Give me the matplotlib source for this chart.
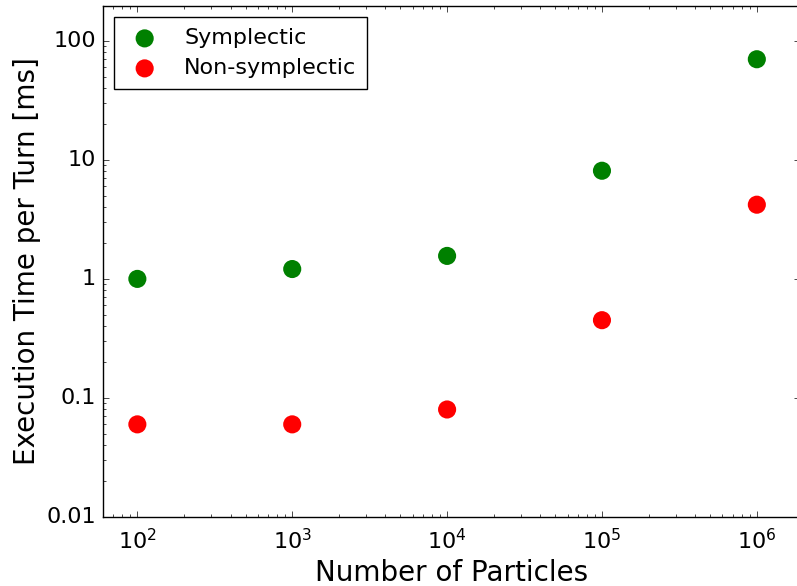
import matplotlib
matplotlib.use('Agg')
import matplotlib.pyplot as plt

particles = [1e2, 1e3, 1e4, 1e5, 1e6]
symplectic = [1.0, 1.21, 1.56, 8.1, 70]
non_symplectic = [0.06, 0.06, 0.08, 0.45, 4.2]

plt.style.use('classic')
plt.rcParams['font.family'] = ['DejaVu Sans']

fig = plt.figure(figsize=(7.97, 5.86), dpi=100, facecolor='white')
ax = fig.add_axes([103 / 797, 1 - 517 / 586, 697 / 797, 511 / 586])

ax.scatter(particles, symplectic, s=170, color='green', edgecolors='none',
           label='Symplectic')
ax.scatter(particles, non_symplectic, s=170, color='red', edgecolors='none',
           label='Non-symplectic')

ax.set_xscale('log')
ax.set_yscale('log')
ax.set_xlim(60, 1.9e6)
ax.set_ylim(0.01, 196)
ax.set_yticks([0.01, 0.1, 1, 10, 100])
ax.set_yticklabels(['0.01', '0.1', '1', '10', '100'])
ax.tick_params(labelsize=16)
ax.tick_params(axis='y', pad=5)
ax.tick_params(axis='x', pad=8)

ax.set_xlabel('Number of Particles', fontsize=20, labelpad=4)
ax.set_ylabel('Execution Time per Turn [ms]', fontsize=20, labelpad=4)

ax.legend(loc='upper left', scatterpoints=1, fontsize=16, fancybox=False,
          frameon=True, borderpad=0.5, labelspacing=0.45, handlelength=1.75,
          handletextpad=0.9, borderaxespad=0.5)

fig.savefig('out.png', dpi=100, facecolor='white')
